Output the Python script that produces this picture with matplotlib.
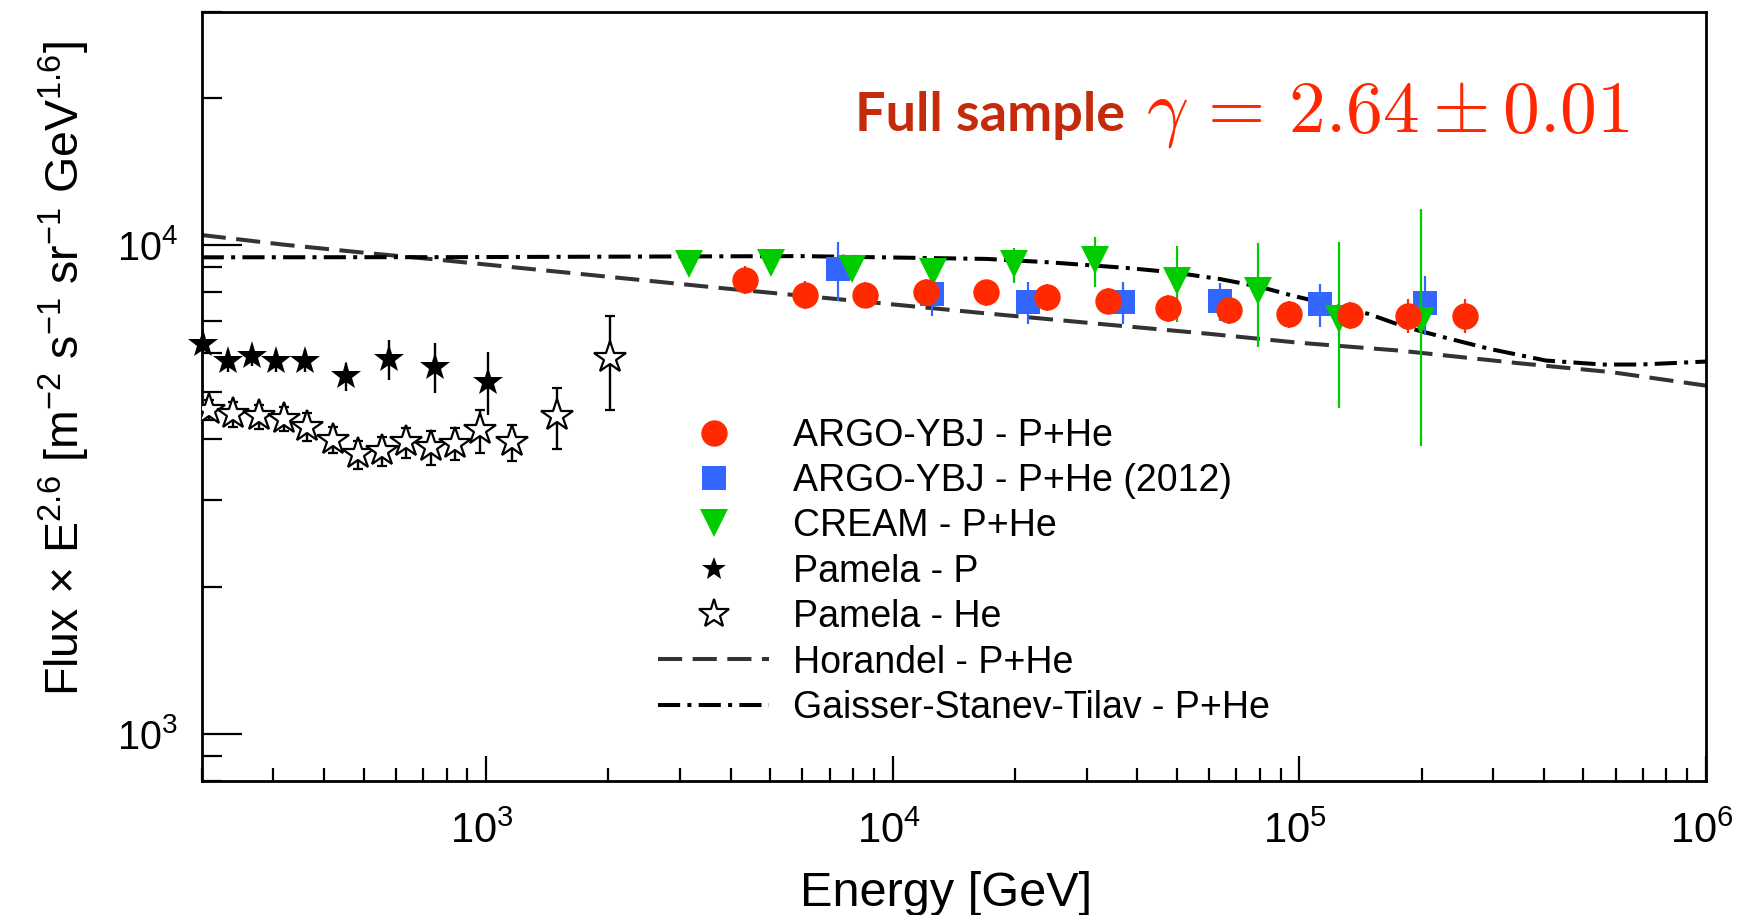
import matplotlib
matplotlib.use("Agg")
import matplotlib.pyplot as plt
from matplotlib.lines import Line2D
from matplotlib.ticker import LogLocator, NullFormatter
from matplotlib.transforms import ScaledTranslation

plt.rcParams['font.family'] = ['Liberation Sans', 'DejaVu Sans']
plt.rcParams['mathtext.fontset'] = 'custom'
plt.rcParams['mathtext.rm'] = 'Liberation Sans'
plt.rcParams['mathtext.it'] = 'Liberation Sans:italic'
plt.rcParams['mathtext.bf'] = 'Liberation Sans:bold'
plt.rcParams['mathtext.sf'] = 'Liberation Sans'

# ---- data: energy [GeV], flux x E^2.6 ----
argo_e = [4346, 6103, 8534, 12100, 16990, 23940, 33810, 47570, 67050, 94500, 133000, 185700, 255300]
argo_f = [8480, 7902, 7902, 8026, 8000, 7813, 7692, 7420, 7364, 7226, 7193, 7170, 7170]
argo_err = [560, 520, 480, 490, 490, 490, 480, 465, 475, 465, 450, 565, 575]

argo12_e = [7328, 12490, 21550, 36810, 63720, 112500, 204000]
argo12_f = [8915, 7940, 7646, 7646, 7680, 7559, 7597]
argo12_err = [1240, 800, 770, 770, 690, 770, 1060]

cream_e = [3160, 5013, 7930, 12560, 19940, 31530, 49950, 79000, 125600, 199600]
cream_f = [9144, 9170, 8930, 8790, 9127, 9300, 8452, 8038, 7047, 7003]
cream_lo = [300, 300, 300, 300, 787, 1080, 1502, 1848, 2414, 3127]
cream_hi = [300, 300, 300, 300, 733, 1100, 1518, 2037, 3113, 4827]

pam_p_e = [202, 231.9, 265.7, 304.8, 359.1, 452, 578.7, 749.3, 1013]
pam_p_f = [6273, 5800, 5937, 5788, 5783, 5381, 5847, 5638, 5254]
pam_p_err = [295, 300, 280, 300, 300, 355, 550, 664, 775]

pam_he_e = [207.9, 239.4, 276.4, 318.9, 363.9, 420.1, 484, 554, 636, 731.3, 839, 967, 1157, 1492, 2017]
pam_he_f = [4598, 4512, 4456, 4408, 4250, 3993, 3726, 3784, 3948, 3855, 3918, 4172, 3948, 4456, 5873]
pam_he_err = [217, 266, 252, 249, 280, 244, 246, 258, 279, 309, 295, 413, 335, 630, 1275]

horandel_e = [200, 317.7, 518.8, 771, 3866, 8379, 16990, 34330, 60100, 100600, 176100, 347100, 587500, 1e6]
horandel_f = [10477, 10014, 9612, 9318, 8147, 7665, 7243, 6861, 6577, 6304, 6079, 5727, 5490, 5154]

gst_e = [200, 815.6, 5908, 16990, 24300, 37520, 48830, 63610, 79740, 96270, 117000, 148000,
         183200, 227000, 293500, 404500, 557500, 690400, 1e6]
gst_f = [9432, 9440, 9487, 9362, 9213, 8975, 8790, 8520, 8216, 7876, 7574, 7226,
         6785, 6471, 6129, 5800, 5692, 5692, 5772]

labels = ['ARGO-YBJ - P+He', 'ARGO-YBJ - P+He (2012)', 'CREAM - P+He',
          'Pamela - P', 'Pamela - He', 'Horandel - P+He', 'Gaisser-Stanev-Tilav - P+He']

RED, BLUE, GREEN, GREY = '#ff2a00', '#3366ff', '#00cc00', '#333333'
HOR_DASH = (6, 2.6)
GST_DASH = (5.5, 1.8, 1, 1.8)

fig = plt.figure(figsize=(17.42, 9.15), dpi=100)
ax = fig.add_axes([0.1158, 0.1464, 0.8634, 0.8408])
ax.set_xscale('log')
ax.set_yscale('log')
ax.set_xlim(200, 1e6)
ax.set_ylim(800, 3e4)

# model curves
ax.plot(horandel_e, horandel_f, color=GREY, lw=2.9, dashes=HOR_DASH, zorder=2)
ax.plot(gst_e, gst_f, color='black', lw=2.9, dashes=GST_DASH, zorder=2)

# measurements
ax.errorbar(argo12_e, argo12_f, yerr=argo12_err, fmt='s', color=BLUE, ms=17.3, mew=0,
            elinewidth=1.6, capsize=3.6, capthick=1.6, zorder=3)
ax.errorbar(cream_e, cream_f, yerr=[cream_lo, cream_hi], fmt='v', color=GREEN, ms=19.5, mew=0,
            elinewidth=1.6, capsize=3.6, capthick=1.6, zorder=4)
ax.errorbar(argo_e, argo_f, yerr=argo_err, fmt='o', color=RED, ms=19, mew=0,
            elinewidth=1.6, capsize=3.6, capthick=1.6, zorder=5)
ax.errorbar(pam_p_e, pam_p_f, yerr=pam_p_err, fmt='*', color='black', ms=22, mew=0,
            elinewidth=1.7, capsize=3.4, capthick=1.7, zorder=5, clip_on=False)
ax.errorbar(pam_he_e, pam_he_f, yerr=pam_he_err, fmt='*', color='black', mfc='white', mec='black',
            ms=24, mew=1.6, elinewidth=1.7, capsize=3.4, capthick=1.7, zorder=5)

# axes styling
for s in ax.spines.values():
    s.set_linewidth(2.0)
ax.yaxis.set_minor_locator(LogLocator(base=10, subs=range(2, 10), numticks=20))
ax.xaxis.set_minor_locator(LogLocator(base=10, subs=range(2, 10), numticks=20))
ax.xaxis.set_minor_formatter(NullFormatter())
ax.yaxis.set_minor_formatter(NullFormatter())
ax.tick_params(which='both', direction='in', top=False, right=False)
ax.tick_params(axis='y', which='major', length=29, width=1.6, pad=17, labelsize=28.5)
ax.tick_params(axis='y', which='minor', length=14.4, width=1.6)
ax.tick_params(axis='x', which='major', length=18, width=1.6, pad=22, labelsize=30)
ax.tick_params(axis='x', which='minor', length=9.1, width=1.6)

ax.set_xlabel('Energy [GeV]', fontsize=35, va='baseline', ha='center')
ax.xaxis.set_label_coords(0.4949, -0.1625)
ax.set_ylabel(r'Flux$\,\times\,$E$^{2.6}$ [m$^{-2}$ s$^{-1}$ sr$^{-1}$ GeV$^{1.6}$]',
              fontsize=33.5, va='baseline', ha='center')
ax.yaxis.set_label_coords(-0.081, 0.536)

# legend
handles = [
    Line2D([], [], ls='none', marker='o', color=RED, ms=19, mew=0),
    Line2D([], [], ls='none', marker='s', color=BLUE, ms=17.3, mew=0),
    Line2D([], [], ls='none', marker='v', color=GREEN, ms=19.5, mew=0),
    Line2D([], [], ls='none', marker='*', color='black', ms=18, mew=0),
    Line2D([], [], ls='none', marker='*', mfc='white', mec='black', ms=22, mew=1.6),
    Line2D([], [], color=GREY, lw=2.9, dashes=HOR_DASH),
    Line2D([], [], color='black', lw=2.9, dashes=GST_DASH),
]
ax.legend(handles, labels, loc='upper left', bbox_to_anchor=(0.3034, 0.4723), frameon=False,
          fontsize=27, borderpad=0, borderaxespad=0, labelspacing=0.25,
          handlelength=2.96, handletextpad=0.64)

# fitted spectral index
fig.text(855 / 1742, 1 - 131 / 915, 'Full sample', family=['Lato', 'Liberation Sans'],
         fontweight='bold', fontsize=39, color='#c42a0c', ha='left', va='baseline')
fig.text(1146 / 1742, 1 - 131 / 915, r'$\gamma\,=\,2.64\pm0.01$', math_fontfamily='cm',
         fontsize=53, color='#ff2600', ha='left', va='baseline')

fig.canvas.draw()
shift = ScaledTranslation(-4 / 100, 0, fig.dpi_scale_trans)
for lbl in ax.get_xticklabels():
    lbl.set_transform(lbl.get_transform() + shift)

fig.savefig('out.png', dpi=100)
